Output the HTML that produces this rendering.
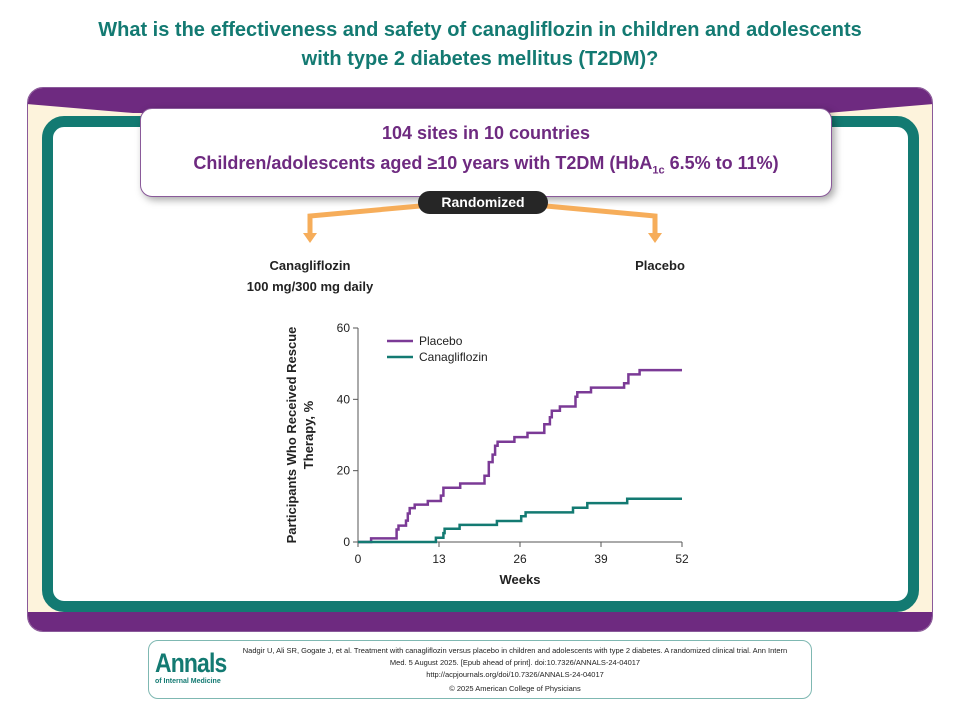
<!DOCTYPE html>
<html><head><meta charset="utf-8">
<style>
body{margin:0;width:960px;height:720px;background:#fff;font-family:"Liberation Sans",Arial,sans-serif;overflow:hidden;position:relative}
.abs{position:absolute}
</style></head><body>
<div class="abs" style="left:0;top:16px;width:960px;text-align:center;color:#137a72;font-weight:bold;font-size:20px;line-height:29px">What is the effectiveness and safety of canagliflozin in children and adolescents<br>with type 2 diabetes mellitus (T2DM)?</div>
<div class="abs" style="left:27px;top:87px;width:904px;height:543px;background:#fdf3dc;border:1px solid #8a5a9a;border-radius:16px;overflow:hidden">
<svg width="906" height="545" style="position:absolute;left:-1px;top:-1px">
<path d="M0 0 H906 V17 L800 26 L106 26 L0 17 Z" fill="#6e2a80"/>
<rect x="0" y="525" width="906" height="20" fill="#6e2a80"/>
</svg>
</div>
<div class="abs" style="left:42px;top:116px;width:855px;height:474px;border:11px solid #137a72;border-radius:22px;background:#fff"></div>
<div class="abs" style="left:140px;top:108px;width:692px;height:89px;background:#fff;border:1px solid #8a5a9a;border-radius:12px;box-shadow:3px 3px 8px rgba(0,0,0,.35);text-align:center;color:#6e2a80;font-weight:bold;font-size:18px;line-height:30px;padding-top:9px;box-sizing:border-box">104 sites in 10 countries<br>Children/adolescents aged ≥10 years with T2DM (HbA<sub style="font-size:11px">1c</sub> 6.5% to 11%)</div>
<svg class="abs" style="left:0;top:0" width="960" height="720">
<path d="M420 206 L310 216 L310 236" stroke="#f6ad5a" stroke-width="5" fill="none"/>
<path d="M303 233 L310 243 L317 233Z" fill="#f6ad5a"/>
<path d="M546 206 L655 216 L655 236" stroke="#f6ad5a" stroke-width="5" fill="none"/>
<path d="M648 233 L655 243 L662 233Z" fill="#f6ad5a"/>
</svg>
<div class="abs" style="left:418px;top:191px;width:130px;height:23px;background:#262626;border-radius:12px;color:#fff;font-weight:bold;font-size:14px;line-height:23px;text-align:center">Randomized</div>
<div class="abs" style="left:220px;top:255px;width:180px;text-align:center;font-weight:bold;font-size:13px;line-height:21px;color:#222">Canagliflozin<br>100 mg/300 mg daily</div>
<div class="abs" style="left:600px;top:255px;width:120px;text-align:center;font-weight:bold;font-size:13px;line-height:21px;color:#222">Placebo</div>
<svg id="chart" class="abs" style="left:0;top:0" width="960" height="720"></svg>
<div class="abs" style="left:148px;top:640px;width:662px;height:57px;border:1px solid #7fb8b2;border-radius:10px"></div>
<div class="abs" style="left:155px;top:650px;color:#137a72;font-weight:bold;line-height:1">
<div style="font-size:27px;letter-spacing:-1px;transform:scaleX(.85);transform-origin:left">Annals</div>
<div style="font-size:7px;margin-top:1px">of Internal Medicine</div></div>
<div class="abs" style="left:240px;top:645px;width:550px;text-align:center;font-size:7.5px;line-height:12px;color:#222">Nadgir U, Ali SR, Gogate J, et al. Treatment with canagliflozin versus placebo in children and adolescents with type 2 diabetes. A randomized clinical trial. Ann Intern Med. 5 August 2025. [Epub ahead of print]. doi:10.7326/ANNALS-24-04017<br>http://acpjournals.org/doi/10.7326/ANNALS-24-04017<br><span style="line-height:16px">© 2025 American College of Physicians</span></div>
<script>
const xTicks=[0,13,26,39,52];
const yTicks=[0,20,40,60];
const placeboWeeks=[0,2.1,6.2,6.5,7.7,8.0,8.3,9.1,11.2,13.3,13.7,16.4,20.3,21,21.6,22,22.4,25.1,27.2,29.9,30.8,31.1,32.4,34.9,35.2,37.4,42.7,43.4,45.2,52];
const placeboPct=[0,1,3.5,4.6,6,8,9.5,10.5,11.5,13,15.2,16.4,18.6,22.4,24.5,27,28.1,29.4,30.6,33,35,36.8,38,40.7,42,43.3,44.5,47,48.2,48.2];
const canaWeeks=[0,12.5,13.7,13.9,16.3,22.3,26.2,26.9,34.5,36.8,43.2,52];
const canaPct=[0,1.2,2.5,3.7,4.8,5.9,7.2,8.3,9.6,10.9,12.1,12.1];
const NS='http://www.w3.org/2000/svg';
const svg=document.getElementById('chart');
const X=w=>358+w*(324/52), Y=p=>542-p*(214/60);
function mk(t,a,txt){const e=document.createElementNS(NS,t);for(const k in a)e.setAttribute(k,a[k]);if(txt!==undefined)e.textContent=txt;svg.appendChild(e);return e;}
let ax=mk('path',{d:`M${X(0)} ${Y(60)} V${Y(0)} H${X(52)}`,stroke:'#555',fill:'none','stroke-width':1});


xTicks.forEach(v=>{
 const l=mk('line',{x1:X(v),x2:X(v),y1:Y(0),y2:Y(0)+5,stroke:'#555'});
 
 
 const t=mk('text',{x:X(v),y:Y(0)+21,'text-anchor':'middle','font-size':12,fill:'#222'},v);
 
 
});
yTicks.forEach(v=>{
 const l=mk('line',{x1:X(0)-5,x2:X(0),y1:Y(v),y2:Y(v),stroke:'#555'});
 
 
 const t=mk('text',{x:X(0)-8,y:Y(v)+4,'text-anchor':'end','font-size':12,fill:'#222'},v);
 
 
});
let xt=mk('text',{x:520,y:584,'text-anchor':'middle','font-size':13,'font-weight':'bold',fill:'#222'},'Weeks');


let yt=mk('text',{transform:'translate(296,435) rotate(-90)','text-anchor':'middle','font-size':13,'font-weight':'bold',fill:'#222'});


const t1=document.createElementNS(NS,'tspan');t1.setAttribute('x',0);t1.setAttribute('dy',0);t1.textContent='Participants Who Received Rescue';yt.appendChild(t1);
const t2=document.createElementNS(NS,'tspan');t2.setAttribute('x',0);t2.setAttribute('dy',17);t2.textContent='Therapy, %';yt.appendChild(t2);
function step(ws,ps){let d=`M${X(ws[0])} ${Y(ps[0])}`;for(let i=1;i<ws.length;i++){d+=` H${X(ws[i]).toFixed(1)} V${Y(ps[i]).toFixed(1)}`;}return d;}
let pl=mk('path',{d:step(placeboWeeks,placeboPct),stroke:'#7b3a96',fill:'none','stroke-width':2.5});


let cl=mk('path',{d:step(canaWeeks,canaPct),stroke:'#137a72',fill:'none','stroke-width':2.5});


[['Placebo','#7b3a96',341],['Canagliflozin','#137a72',357]].forEach(([n,c,y])=>{
 const l=mk('line',{x1:387,x2:413,y1:y,y2:y,stroke:c,'stroke-width':2.5});
 
 
 const t=mk('text',{x:419,y:y+4,'font-size':12,fill:'#222'},n);
 
 
});
</script>
</body></html>
